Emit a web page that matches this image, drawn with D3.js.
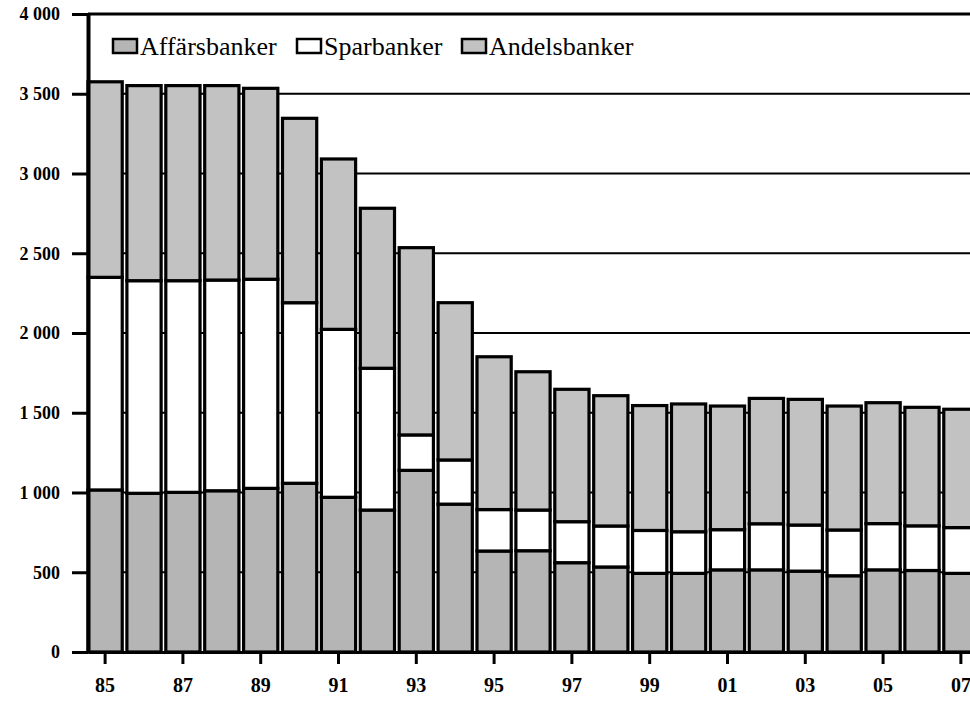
<!DOCTYPE html>
<html>
<head>
<meta charset="utf-8">
<script src="https://cdnjs.cloudflare.com/ajax/libs/d3/7.8.5/d3.min.js"></script>
<style>
  body { margin: 0; background: #fff; }
</style>
</head>
<body>
<svg id="chart" width="970" height="701"></svg>
<script>
// Data (number of bank offices per year)
var years = ['85','86','87','88','89','90','91','92','93','94','95','96',
             '97','98','99','00','01','02','03','04','05','06','07'];
var affarsbanker = [1016, 995, 1001, 1011, 1026, 1058, 970, 890, 1139, 927, 633, 635,
                    560, 533, 493, 493, 515, 515, 507, 478, 515, 511, 493];
var sparbanker = [1333, 1333, 1327, 1321, 1311, 1132, 1053, 889, 222, 277, 260, 255,
                  257, 257, 269, 261, 252, 289, 289, 287, 290, 280, 287];
var andelsbanker = [1226, 1223, 1223, 1219, 1197, 1156, 1068, 1003, 1174, 986, 958, 867,
                    830, 817, 783, 801, 775, 786, 788, 777, 758, 743, 742];
var seriesNames = ['Affärsbanker', 'Sparbanker', 'Andelsbanker'];
var yTicks = [0, 500, 1000, 1500, 2000, 2500, 3000, 3500, 4000];
var xTickLabels = ['85','87','89','91','93','95','97','99','01','03','05','07'];

var colors = {'Affärsbanker': '#b5b5b5', 'Sparbanker': '#ffffff', 'Andelsbanker': '#c2c2c2'};
var serif = '"Liberation Serif", "Times New Roman", serif';

var svg = d3.select('#chart');

var x = d3.scaleBand().domain(years).range([88, 978]).paddingInner(0.12).paddingOuter(0);
var y = d3.scaleLinear().domain([0, 4000]).range([652, 14]);

var rows = years.map(function(yr, i) {
  return {year: yr, 'Affärsbanker': affarsbanker[i], 'Sparbanker': sparbanker[i], 'Andelsbanker': andelsbanker[i]};
});
var stacked = d3.stack().keys(seriesNames)(rows);

var spaceFormat = d3.formatLocale({decimal: ',', thousands: ' ', grouping: [3], currency: ['', '']}).format(',');

// Gridlines behind the bars
svg.append('g').selectAll('line')
  .data(yTicks.filter(function(d) { return d > 0; }))
  .enter().append('line')
  .attr('x1', 88).attr('x2', 970)
  .attr('y1', function(d) { return y(d); })
  .attr('y2', function(d) { return y(d); })
  .attr('stroke', '#000')
  .attr('stroke-width', function(d) { return d == 4000 ? 3 : 2.2; });

// Bars
svg.append('g').selectAll('g')
  .data(stacked)
  .enter().append('g')
  .attr('fill', function(d) { return colors[d.key]; })
  .selectAll('rect')
  .data(function(d) { return d; })
  .enter().append('rect')
  .attr('x', function(d) { return x(d.data.year); })
  .attr('y', function(d) { return y(d[1]); })
  .attr('width', x.bandwidth())
  .attr('height', function(d) { return y(d[0]) - y(d[1]); })
  .attr('stroke', '#000')
  .attr('stroke-width', 3.2);

// Y axis
var yAxis = svg.append('g')
  .attr('transform', 'translate(88,0)')
  .call(d3.axisLeft(y).tickValues(yTicks).tickSize(16).tickSizeOuter(0).tickPadding(12).tickFormat(spaceFormat));
yAxis.attr('font-family', serif).attr('font-size', 18).attr('font-weight', 'bold');
yAxis.select('.domain').attr('stroke-width', 4);
yAxis.selectAll('.tick line').attr('stroke-width', 3);
yAxis.selectAll('.tick text').attr('fill', '#000');

// X axis
var xAxis = svg.append('g')
  .attr('transform', 'translate(0,652)')
  .call(d3.axisBottom(x).tickValues(xTickLabels).tickSize(12).tickSizeOuter(0).tickPadding(14));
xAxis.attr('font-family', serif).attr('font-size', 20).attr('font-weight', 'bold');
xAxis.select('.domain').attr('stroke-width', 3);
xAxis.selectAll('.tick line').attr('stroke-width', 3);
xAxis.selectAll('.tick text').attr('fill', '#000');

// Legend
var legendX = [113, 297, 462];
var legend = svg.append('g').selectAll('g')
  .data(seriesNames)
  .enter().append('g')
  .attr('transform', function(d, i) { return 'translate(' + legendX[i] + ',39)'; });
legend.append('rect')
  .attr('width', 24).attr('height', 14)
  .attr('fill', function(d) { return colors[d]; })
  .attr('stroke', '#000').attr('stroke-width', 2.5);
legend.append('text')
  .attr('x', 27).attr('y', 16)
  .attr('font-family', serif)
  .attr('font-size', 26)
  .attr('fill', '#000')
  .text(function(d) { return d; });
</script>
</body>
</html>
